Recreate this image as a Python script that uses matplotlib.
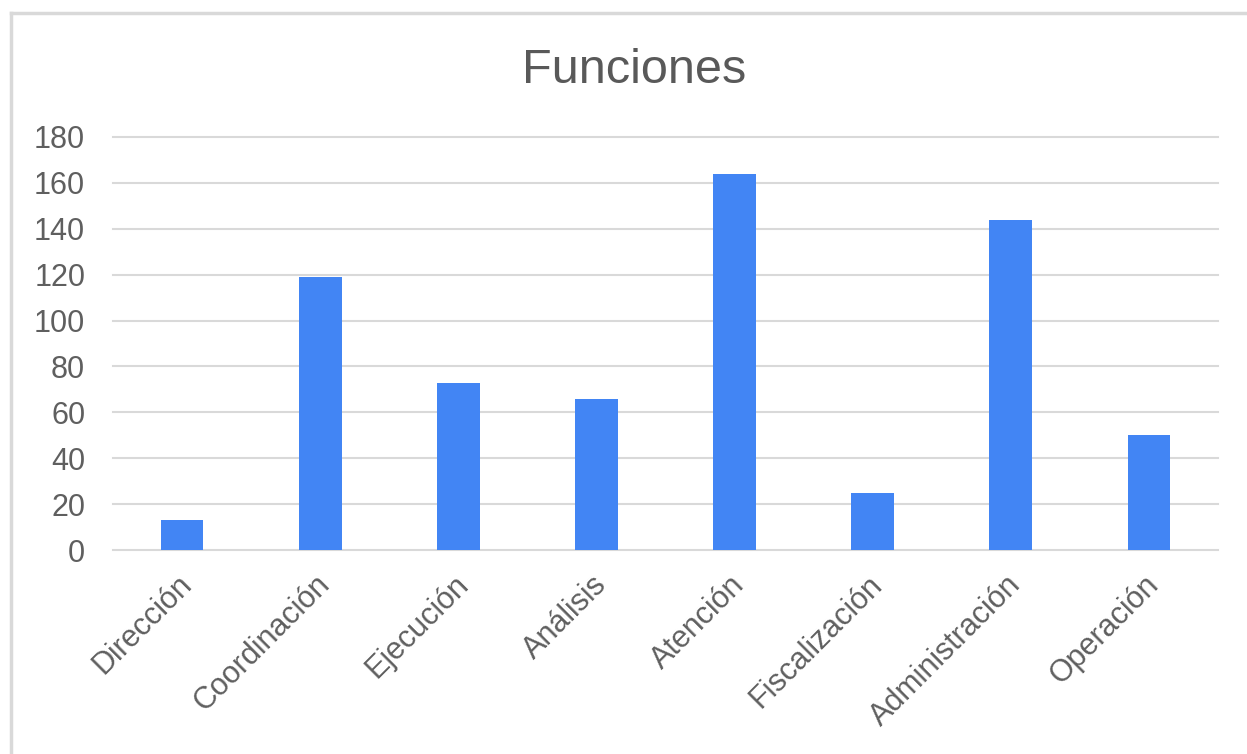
import matplotlib
matplotlib.use("Agg")
import matplotlib.pyplot as plt
import matplotlib.transforms as mtransforms
from matplotlib.lines import Line2D

categorias = ["Dirección", "Coordinación", "Ejecución", "Análisis",
              "Atención", "Fiscalización", "Administración", "Operación"]
valores = [13, 119, 73, 66, 164, 25, 144, 50]
ticks_y = [0, 20, 40, 60, 80, 100, 120, 140, 160, 180]

plt.rcParams['font.family'] = ['Liberation Sans', 'DejaVu Sans']

fig = plt.figure(figsize=(12.47, 7.54), dpi=100)
ax = fig.add_axes([113 / 1247, 1 - 550 / 754, (1218 - 113) / 1247, (550 - 137) / 754])

x = list(range(len(categorias)))
ax.bar(x, valores, width=0.31, color="#4285F4", zorder=3)

ax.set_xlim(-0.5, len(categorias) - 0.5)
ax.set_ylim(0, 180)
ax.set_yticks(ticks_y)
ax.set_yticklabels([str(t) for t in ticks_y], fontsize=22, color="#5f5f5f")
ax.set_xticks(x)
ax.set_xticklabels(categorias, rotation=45, ha="right", va="top",
                   rotation_mode="anchor", fontsize=22, color="#5f5f5f")
ax.tick_params(axis="both", length=0)
ax.tick_params(axis="y", pad=20)
ax.tick_params(axis="x", pad=14)
# mover un poco las etiquetas a la izquierda
desplaza = mtransforms.ScaledTranslation(-5 / 100, 0, fig.dpi_scale_trans)
for lbl in ax.get_xticklabels():
    lbl.set_transform(lbl.get_transform() + desplaza)
ax.grid(axis="y", color="#d9d9d9", linewidth=1.5, zorder=0)
for gl in ax.get_ygridlines():
    gl.set_clip_on(False)
for s in ax.spines.values():
    s.set_visible(False)

fig.text(634 / 1247, 1 - 83 / 754, "Funciones", ha="center", va="baseline",
         fontsize=35, color="#595959")

# marco exterior
borde = dict(color="#d9d9d9", linewidth=2.5, transform=fig.transFigure)
fig.add_artist(Line2D([11 / 1247, 11 / 1247], [0, 1 - 13 / 754], **borde))
fig.add_artist(Line2D([11 / 1247, 1], [1 - 13 / 754, 1 - 13 / 754], **borde))

fig.savefig("out.png", dpi=100)
